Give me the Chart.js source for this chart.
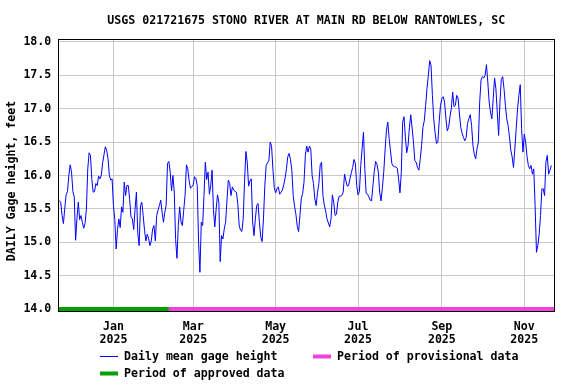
<!DOCTYPE html>
<html><head><meta charset="utf-8">
<script src="https://cdn.jsdelivr.net/npm/chart.js@4.4.1/dist/chart.umd.min.js"></script>
<style>html,body{margin:0;padding:0;background:#fff;}#wrap{width:576px;height:384px;position:relative;}</style>
</head><body><div id="wrap"><canvas id="c" width="576" height="384"></canvas></div>
<script>
// ---- data ----
const startDate = '2024-11-21';
const gageHeight = [
15.63,15.62,15.60,15.40,15.28,15.51,15.71,15.76,16.00,16.16,
16.05,15.76,15.68,15.03,15.35,15.60,15.34,15.40,15.30,15.21,
15.28,15.50,16.10,16.34,16.30,15.94,15.75,15.76,15.88,15.85,
15.99,15.95,16.00,16.19,16.31,16.43,16.38,16.25,16.00,15.93,
15.95,15.55,15.34,14.90,15.19,15.35,15.22,15.53,15.45,15.90,
15.70,15.85,15.85,15.64,15.38,15.35,15.19,15.50,15.75,15.14,
14.95,15.55,15.60,15.40,15.18,15.02,15.12,15.06,14.95,15.02,
15.20,15.25,15.02,15.40,15.48,15.55,15.63,15.45,15.30,15.45,
15.55,16.18,16.21,16.05,15.77,16.00,15.75,15.04,14.76,15.25,
15.53,15.30,15.25,15.48,15.70,16.16,16.10,15.92,15.81,15.83,
15.86,15.98,15.96,15.85,15.00,14.55,15.30,15.25,15.70,16.20,
15.94,16.05,15.72,15.85,16.08,15.49,15.23,15.50,15.71,15.60,
14.71,15.10,15.05,15.20,15.30,15.62,15.93,15.88,15.70,15.83,
15.78,15.76,15.75,15.58,15.26,15.18,15.16,15.34,15.90,16.36,
16.20,15.84,15.92,15.95,15.30,15.10,15.35,15.55,15.58,15.30,
15.08,15.01,15.35,15.84,16.15,16.19,16.22,16.50,16.44,16.10,
15.82,15.74,15.80,15.83,15.72,15.75,15.78,15.86,15.96,16.10,
16.28,16.33,16.24,16.08,15.70,15.54,15.42,15.24,15.16,15.40,
15.66,15.73,15.90,16.30,16.44,16.35,16.44,16.40,16.00,15.88,
15.65,15.55,15.75,15.88,16.16,16.20,15.70,15.56,15.47,15.35,
15.29,15.23,15.35,15.71,15.60,15.40,15.42,15.60,15.69,15.69,
15.70,15.75,16.02,15.92,15.84,15.85,15.95,16.04,16.12,16.24,
16.18,15.85,15.71,15.76,16.15,16.40,16.65,16.10,15.73,15.72,
15.68,15.63,15.62,15.85,16.06,16.21,16.17,16.05,15.75,15.62,
15.82,16.05,16.38,16.68,16.80,16.55,16.37,16.18,16.14,16.13,
16.13,16.11,15.95,15.74,16.05,16.80,16.88,16.58,16.34,16.45,
16.72,16.91,16.71,16.50,16.22,16.20,16.12,16.08,16.24,16.45,
16.72,16.82,17.05,17.30,17.50,17.72,17.65,17.20,16.85,16.64,
16.48,16.50,16.80,17.05,17.15,17.18,17.10,16.85,16.67,16.72,
16.88,17.00,17.25,17.03,17.05,17.20,17.16,16.92,16.72,16.63,
16.57,16.52,16.57,16.78,16.85,16.91,16.75,16.45,16.32,16.25,
16.40,16.50,17.10,17.43,17.48,17.46,17.50,17.66,17.40,17.10,
16.95,16.85,17.15,17.46,17.30,16.95,16.60,17.10,17.44,17.48,
17.30,17.05,16.85,16.75,16.58,16.38,16.28,16.12,16.40,16.70,
17.00,17.20,17.36,16.70,16.35,16.62,16.50,16.29,16.15,16.10,
16.15,16.02,16.10,15.55,14.85,14.95,15.12,15.40,15.80,15.80,
15.70,16.20,16.30,16.02,16.08,16.15
];
const tickDates = ['2025-01-01','2025-03-01','2025-05-01','2025-07-01','2025-09-01','2025-11-01'];
const tickLabels = [['Jan','2025'],['Mar','2025'],['May','2025'],['Jul','2025'],['Sep','2025'],['Nov','2025']];
const yTicks = [14.0,14.5,15.0,15.5,16.0,16.5,17.0,17.5,18.0];
const approvedPeriod = ['2024-11-21','2025-02-11'];
const provisionalPeriod = ['2025-02-11','2025-11-23'];
const periodLevel = 14.0;
const titleText = 'USGS 021721675 STONO RIVER AT MAIN RD BELOW RANTOWLES, SC';
const yTitleText = 'DAILY Gage height, feet';
const legendNames = ['Daily mean gage height','Period of provisional data','Period of approved data'];

// ---- helpers ----
function dayIndex(d){
  const [y,m,dd]=d.split('-').map(Number);
  const [y0,m0,d0]=startDate.split('-').map(Number);
  return (Date.UTC(y,m-1,dd)-Date.UTC(y0,m0-1,d0))/86400000;
}
const tickIdx = tickDates.map(dayIndex);
const FONT = "'DejaVu Sans Mono', 'Liberation Mono', monospace";
const BLUE='#0000ff', GREEN='#00a000', PINK='#f042dc';

const extras = {
  id:'extras',
  afterDraw(chart){
    const ctx=chart.ctx, a=chart.chartArea;
    ctx.save();
    ctx.strokeStyle='#000'; ctx.lineWidth=1;
    ctx.strokeRect(Math.round(a.left)+0.5, Math.round(a.top)+0.5, Math.round(a.right-a.left), Math.round(a.bottom-a.top));
    ctx.fillStyle='#000';
    ctx.font='bold 11.6px '+FONT;
    ctx.textAlign='center'; ctx.textBaseline='middle';
    ctx.fillText(titleText,(a.left+a.right)/2,21);
    ctx.save(); ctx.translate(12,181); ctx.rotate(-Math.PI/2);
    ctx.fillText(yTitleText,0,0); ctx.restore();
    // legend
    ctx.textAlign='left';
    const items=[
      {x:100,y:356,color:BLUE,w:1,label:legendNames[0]},
      {x:313,y:356,color:PINK,w:4,label:legendNames[1]},
      {x:100,y:373,color:GREEN,w:4,label:legendNames[2]}
    ];
    items.forEach(it=>{
      ctx.strokeStyle=it.color; ctx.lineWidth=it.w;
      ctx.beginPath(); ctx.moveTo(it.x,it.y+0.5); ctx.lineTo(it.x+18,it.y+0.5); ctx.stroke();
      ctx.fillStyle='#000';
      ctx.fillText(it.label,it.x+24,it.y+1);
    });
    ctx.restore();
  }
};

new Chart(document.getElementById('c'),{
  type:'line',
  data:{datasets:[
    {data:gageHeight.map((v,i)=>({x:i,y:v})),borderColor:BLUE,borderWidth:1,pointRadius:0,tension:0,order:2},
    {data:approvedPeriod.map(d=>({x:dayIndex(d),y:periodLevel})),borderColor:GREEN,borderWidth:4,pointRadius:0,order:1},
    {data:provisionalPeriod.map(d=>({x:dayIndex(d),y:periodLevel})),borderColor:PINK,borderWidth:4,pointRadius:0,order:1}
  ]},
  options:{
    responsive:false,animation:false,devicePixelRatio:1,
    layout:{padding:{left:0,top:39.3,right:21.7,bottom:0}},
    plugins:{legend:{display:false},title:{display:false},tooltip:{enabled:false}},
    scales:{
      x:{type:'linear',min:0.2,max:367.2,
        afterFit:s=>{s.height=72.3;},
        afterBuildTicks:s=>{s.ticks=tickIdx.map(v=>({value:v}));},
        ticks:{callback:(v,i)=>tickLabels[i],color:'#000',padding:8.6,maxRotation:0,autoSkip:false,
          font:{family:FONT,weight:'bold',size:11.6,lineHeight:1.15}},
        grid:{color:'#c8c8c8',lineWidth:1,drawTicks:false},
        border:{display:false}
      },
      y:{min:13.96,max:18.04,
        afterFit:s=>{s.width=58.3;},
        afterBuildTicks:s=>{s.ticks=yTicks.map(v=>({value:v}));},
        ticks:{callback:v=>Number(v).toFixed(1),color:'#000',padding:7,
          font:{family:FONT,weight:'bold',size:11.6,lineHeight:1.15}},
        grid:{color:'#c8c8c8',lineWidth:1,drawTicks:false},
        border:{display:false}
      }
    }
  },
  plugins:[extras]
});
</script></body></html>
